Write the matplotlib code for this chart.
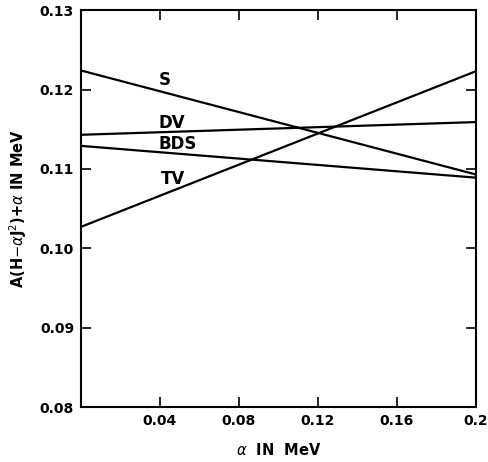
import matplotlib
matplotlib.use('Agg')
import matplotlib.pyplot as plt

# alpha in MeV (end points of each straight line)
alpha = [0.0, 0.2]
S = [0.1224, 0.1093]
DV = [0.1143, 0.1159]
BDS = [0.1129, 0.1089]
TV = [0.1027, 0.1223]

names = ['S', 'DV', 'BDS', 'TV']
label_x = [0.0395, 0.0395, 0.0395, 0.0405]
label_y = [0.1212, 0.1158, 0.1132, 0.1087]

xticks = [0.04, 0.08, 0.12, 0.16, 0.2]
xticklabels = ['0.04', '0.08', '0.12', '0.16', '0.2']
yticks = [0.08, 0.09, 0.10, 0.11, 0.12, 0.13]
yticklabels = ['0.08', '0.09', '0.10', '0.11', '0.12', '0.13']

fig = plt.figure(figsize=(4.88, 4.62), dpi=100)
ax = fig.add_axes([0.166, 0.119, 0.809, 0.859])

for ys in [S, DV, BDS, TV]:
    ax.plot(alpha, ys, color='black', lw=1.6, solid_capstyle='butt')

for n, lx, ly in zip(names, label_x, label_y):
    ax.text(lx, ly, n, fontsize=12, fontweight='bold', ha='left', va='center')

ax.set_xlim(0, 0.2)
ax.set_ylim(0.08, 0.13)
ax.set_xticks(xticks)
ax.set_xticklabels(xticklabels)
ax.set_yticks(yticks)
ax.set_yticklabels(yticklabels)
ax.tick_params(direction='in', length=7, width=1.2, top=True, right=True,
               labelsize=10, pad=5)
for lab in ax.get_xticklabels() + ax.get_yticklabels():
    lab.set_fontweight('bold')
for sp in ax.spines.values():
    sp.set_linewidth(1.5)

ax.set_xlabel(r'$\alpha$  IN  MeV', fontsize=10.5, fontweight='bold', labelpad=10)
ax.set_ylabel(r'A(H$-\alpha$J$^2$)+$\alpha$ IN MeV', fontsize=10.5,
              fontweight='bold', labelpad=8)

fig.savefig('out.png', dpi=100)
